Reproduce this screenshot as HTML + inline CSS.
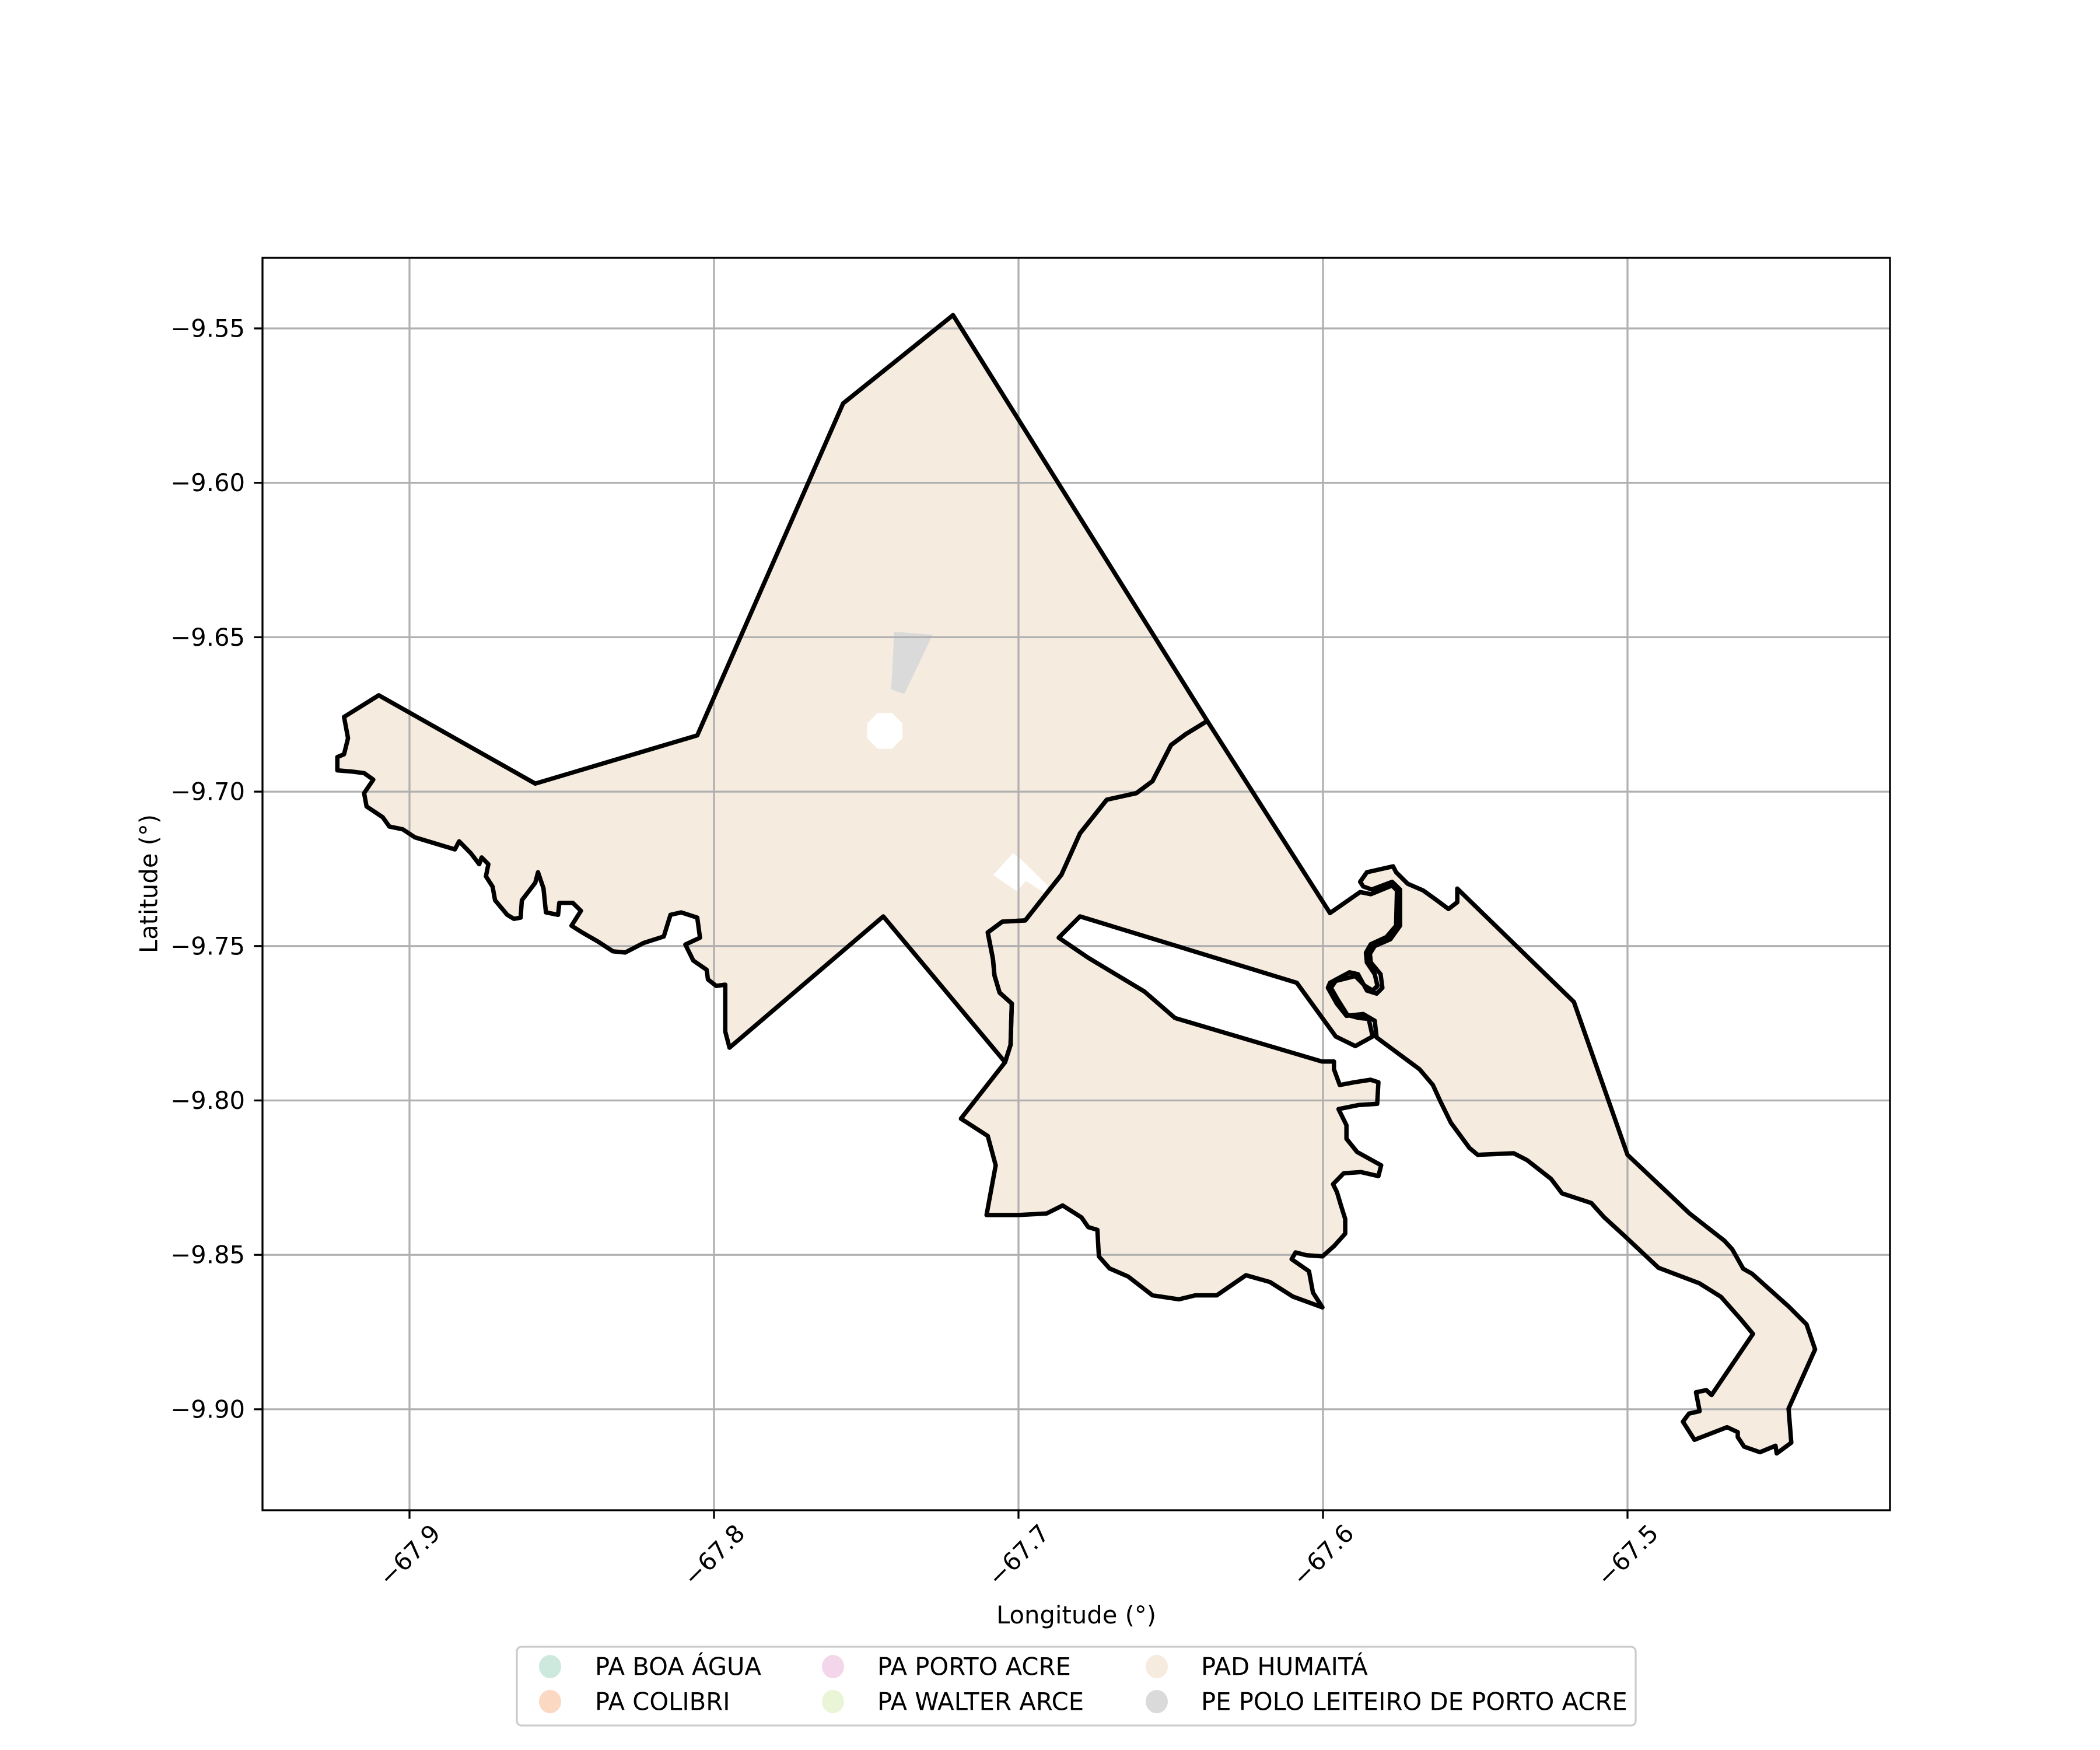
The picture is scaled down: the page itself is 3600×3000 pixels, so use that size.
<!DOCTYPE html>
<html><head><meta charset="utf-8"><style>
html,body{margin:0;padding:0;background:#fff;}
svg{display:block;font-family:"DejaVu Sans","Liberation Sans",sans-serif;}
</style></head><body>
<svg id="chart" width="3600" height="3000" viewBox="0 0 3600 3000" xmlns="http://www.w3.org/2000/svg">
<rect width="3600" height="3000" fill="#ffffff"/>
<g id="fills"></g>
<g id="grid"></g>
<g id="outlines"></g>
<g id="axes"></g>
<g id="legend"></g>
</svg>
<script>
// ---- data (lon, lat) ----
const xTicks = [-67.9, -67.8, -67.7, -67.6, -67.5];
const xTickLabels = ["\u221267.9", "\u221267.8", "\u221267.7", "\u221267.6", "\u221267.5"];
const yTicks = [-9.55, -9.60, -9.65, -9.70, -9.75, -9.80, -9.85, -9.90];
const yTickLabels = ["\u22129.55", "\u22129.60", "\u22129.65", "\u22129.70", "\u22129.75", "\u22129.80", "\u22129.85", "\u22129.90"];
const legendNames = ["PA BOA ÁGUA", "PA COLIBRI", "PA PORTO ACRE", "PA WALTER ARCE", "PAD HUMAITÁ", "PE POLO LEITEIRO DE PORTO ACRE"];
const legendColors = ["#cde9dd", "#fbd8c2", "#f3d6ea", "#eaf5d7", "#f5ebde", "#dadada"];

const polyWest = [
[-67.7215,-9.5457],[-67.7576,-9.5743],[-67.8055,-9.6818],[-67.8587,-9.6974],[-67.9101,-9.6688],[-67.9215,-9.6758],
[-67.9202,-9.6827],[-67.9215,-9.6879],[-67.9237,-9.6888],[-67.9237,-9.6931],[-67.9189,-9.6935],[-67.9149,-9.6940],
[-67.9119,-9.6961],[-67.9149,-9.7005],[-67.9141,-9.7048],[-67.9088,-9.7083],[-67.9066,-9.7113],[-67.9022,-9.7122],
[-67.8982,-9.7148],[-67.8851,-9.7187],[-67.8837,-9.7161],[-67.8798,-9.7200],[-67.8771,-9.7235],[-67.8763,-9.7213],
[-67.8741,-9.7235],[-67.8749,-9.7274],[-67.8727,-9.7308],[-67.8719,-9.7352],[-67.8679,-9.7399],[-67.8657,-9.7412],
[-67.8635,-9.7408],[-67.8631,-9.7352],[-67.8587,-9.7295],[-67.8578,-9.7261],[-67.8560,-9.7313],[-67.8552,-9.7391],
[-67.8512,-9.7399],[-67.8508,-9.7360],[-67.8464,-9.7360],[-67.8437,-9.7386],[-67.8468,-9.7434],[-67.8433,-9.7456],
[-67.8380,-9.7486],[-67.8332,-9.7517],[-67.8292,-9.7521],[-67.8231,-9.7490],[-67.8165,-9.7469],[-67.8143,-9.7399],
[-67.8108,-9.7391],[-67.8055,-9.7408],[-67.8046,-9.7473],[-67.8094,-9.7495],[-67.8068,-9.7547],[-67.8024,-9.7577],
[-67.8020,-9.7608],[-67.7993,-9.7629],[-67.7963,-9.7625],[-67.7963,-9.7777],[-67.7949,-9.7829],[-67.7444,-9.7404],
[-67.7044,-9.7876],[-67.7026,-9.7820],[-67.7022,-9.7686],[-67.7062,-9.7651],[-67.7079,-9.7595],[-67.7084,-9.7542],
[-67.7101,-9.7456],[-67.7053,-9.7421],[-67.6978,-9.7417],[-67.6859,-9.7269],[-67.6798,-9.7135],[-67.6710,-9.7026],
[-67.6613,-9.7005],[-67.6560,-9.6966],[-67.6499,-9.6849],[-67.6451,-9.6814],[-67.6380,-9.6771]
];

const polyMiddleSouth = [
[-67.6978,-9.7417],[-67.6859,-9.7269],[-67.6798,-9.7135],[-67.6710,-9.7026],[-67.6613,-9.7005],[-67.6560,-9.6966],
[-67.6499,-9.6849],[-67.6451,-9.6814],[-67.6380,-9.6771],[-67.5977,-9.7393],[-67.5878,-9.7325],[-67.5843,-9.7332],
[-67.5773,-9.7304],[-67.5757,-9.7320],[-67.5760,-9.7434],[-67.5792,-9.7471],[-67.5843,-9.7494],[-67.5859,-9.7522],
[-67.5856,-9.7553],[-67.5830,-9.7591],[-67.5821,-9.7629],[-67.5837,-9.7644],[-67.5862,-9.7629],[-67.5894,-9.7597],
[-67.5958,-9.7613],[-67.5974,-9.7635],[-67.5952,-9.7673],[-67.5920,-9.7723],[-67.5881,-9.7733],[-67.5850,-9.7736],
[-67.5837,-9.7793],[-67.5894,-9.7824],[-67.5958,-9.7793],[-67.6086,-9.7619],[-67.6798,-9.7404],[-67.6868,-9.7473],
[-67.6771,-9.7538],[-67.6587,-9.7647],[-67.6486,-9.7733],[-67.6003,-9.7874],[-67.5964,-9.7874],[-67.5964,-9.7899],
[-67.5945,-9.7950],[-67.5897,-9.7941],[-67.5844,-9.7933],[-67.5818,-9.7941],[-67.5822,-9.8011],[-67.5884,-9.8015],
[-67.5949,-9.8028],[-67.5923,-9.8080],[-67.5923,-9.8124],[-67.5888,-9.8167],[-67.5809,-9.8210],[-67.5818,-9.8245],
[-67.5875,-9.8232],[-67.5932,-9.8236],[-67.5967,-9.8271],[-67.5954,-9.8297],[-67.5941,-9.8340],[-67.5927,-9.8384],
[-67.5927,-9.8431],[-67.5963,-9.8471],[-67.6002,-9.8505],[-67.6055,-9.8501],[-67.6090,-9.8492],[-67.6103,-9.8514],
[-67.6046,-9.8553],[-67.6033,-9.8622],[-67.6002,-9.8670],[-67.6099,-9.8635],[-67.6174,-9.8588],[-67.6253,-9.8566],
[-67.6349,-9.8631],[-67.6420,-9.8631],[-67.6473,-9.8644],[-67.6560,-9.8631],[-67.6640,-9.8570],[-67.6701,-9.8544],
[-67.6736,-9.8505],[-67.6741,-9.8419],[-67.6771,-9.8410],[-67.6793,-9.8379],[-67.6855,-9.8340],[-67.6908,-9.8366],
[-67.7000,-9.8371],[-67.7105,-9.8371],[-67.7075,-9.8210],[-67.7101,-9.8115],[-67.7189,-9.8059],[-67.7044,-9.7876],
[-67.7026,-9.7820],[-67.7022,-9.7686],[-67.7062,-9.7651],[-67.7079,-9.7595],[-67.7084,-9.7542],[-67.7101,-9.7456],
[-67.7053,-9.7421]
];

const polyEast = [
[-67.5770,-9.7242],[-67.5760,-9.7261],[-67.5722,-9.7298],[-67.5671,-9.7320],[-67.5626,-9.7352],[-67.5588,-9.7380],
[-67.5559,-9.7358],[-67.5559,-9.7314],[-67.5176,-9.7681],[-67.5000,-9.8176],[-67.4796,-9.8366],[-67.4682,-9.8454],
[-67.4656,-9.8482],[-67.4620,-9.8545],[-67.4591,-9.8561],[-67.4470,-9.8668],[-67.4412,-9.8725],[-67.4384,-9.8806],
[-67.4471,-9.8998],[-67.4462,-9.9108],[-67.4510,-9.9143],[-67.4514,-9.9118],[-67.4565,-9.9139],[-67.4617,-9.9121],
[-67.4638,-9.9090],[-67.4638,-9.9074],[-67.4673,-9.9058],[-67.4780,-9.9099],[-67.4818,-9.9040],[-67.4798,-9.9014],
[-67.4763,-9.9006],[-67.4775,-9.8945],[-67.4741,-9.8938],[-67.4724,-9.8954],[-67.4588,-9.8756],[-67.4630,-9.8706],
[-67.4693,-9.8636],[-67.4764,-9.8592],[-67.4898,-9.8542],[-67.5007,-9.8441],[-67.5077,-9.8378],[-67.5119,-9.8332],
[-67.5215,-9.8301],[-67.5251,-9.8254],[-67.5330,-9.8193],[-67.5374,-9.8171],[-67.5492,-9.8176],[-67.5519,-9.8154],
[-67.5580,-9.8072],[-67.5615,-9.8002],[-67.5639,-9.7950],[-67.5683,-9.7899],[-67.5824,-9.7796],[-67.5830,-9.7742],
[-67.5868,-9.7720],[-67.5923,-9.7726],[-67.5955,-9.7686],[-67.5984,-9.7635],[-67.5977,-9.7619],[-67.5913,-9.7585],
[-67.5885,-9.7591],[-67.5856,-9.7644],[-67.5824,-9.7654],[-67.5805,-9.7635],[-67.5811,-9.7591],[-67.5843,-9.7553],
[-67.5846,-9.7525],[-67.5830,-9.7500],[-67.5779,-9.7478],[-67.5747,-9.7434],[-67.5747,-9.7317],[-67.5773,-9.7292],
[-67.5840,-9.7317],[-67.5868,-9.7307],[-67.5878,-9.7292],[-67.5856,-9.7261],[-67.5811,-9.7251]
];

const polyPolo = [[-67.7408,-9.6482],[-67.7282,-9.6492],[-67.7375,-9.6684],[-67.7418,-9.6669]];
const holeOctagon = [[-67.7381,-9.6779],[-67.7415,-9.6745],[-67.7463,-9.6745],[-67.7497,-9.6779],[-67.7497,-9.6827],[-67.7463,-9.6861],[-67.7415,-9.6861],[-67.7381,-9.6827]];
const holeDiamond = [[-67.7083,-9.7270],[-67.7018,-9.7199],[-67.6992,-9.7219],[-67.6903,-9.7305],[-67.6916,-9.7327],[-67.6976,-9.7289],[-67.7005,-9.7323]];

// ---- axes ----
const AX = {left:450, right:3240, top:442, bottom:2589};
function xS(lon){ return 702 + (lon + 67.9) * 5220; }
function yS(lat){ return 563 + (-9.55 - lat) * 5294; }
const NS = "http://www.w3.org/2000/svg";
function mk(tag, attrs, parent){
  const e = document.createElementNS(NS, tag);
  for (const k in attrs) e.setAttribute(k, attrs[k]);
  parent.appendChild(e);
  return e;
}
function pts(poly){ return poly.map(p => xS(p[0]).toFixed(1) + "," + yS(p[1]).toFixed(1)).join(" "); }

const fills = document.getElementById("fills");
const outlines = document.getElementById("outlines");
const padFill = "#f5ebde";
const polys = [["pad-humaita-west", polyWest], ["pad-humaita-middle-south", polyMiddleSouth], ["pad-humaita-east", polyEast]];
polys.forEach(([name, poly]) => {
  const f = mk("polygon", {points: pts(poly), fill: padFill, stroke: padFill, "stroke-width": 2}, fills);
  
  
});
const polo = mk("polygon", {points: pts(polyPolo), fill: "#dadada"}, fills);


[["hole-octagon", holeOctagon], ["hole-diamond", holeDiamond]].forEach(([name, poly]) => {
  const h = mk("polygon", {points: pts(poly), fill: "#ffffff"}, fills);
  
  
});
polys.forEach(([name, poly]) => {
  const o = mk("polygon", {points: pts(poly), fill: "none", stroke: "#000", "stroke-width": 7.5, "stroke-linejoin": "round"}, outlines);
  
  
});

// grid
const grid = document.getElementById("grid");
xTicks.forEach(v => {
  const l = mk("line", {x1: xS(v), x2: xS(v), y1: AX.top, y2: AX.bottom, stroke: "#b0b0b0", "stroke-width": 3.3}, grid);
  
  
});
yTicks.forEach(v => {
  const l = mk("line", {x1: AX.left, x2: AX.right, y1: yS(v), y2: yS(v), stroke: "#b0b0b0", "stroke-width": 3.3}, grid);
  
  
});

// axes
const axes = document.getElementById("axes");
const frame = mk("rect", {x: AX.left, y: AX.top, width: AX.right - AX.left, height: AX.bottom - AX.top, fill: "none", stroke: "#000", "stroke-width": 3.3}, axes);


xTicks.forEach((v, i) => {
  const x = xS(v);
  const t = mk("line", {x1: x, x2: x, y1: AX.bottom, y2: AX.bottom + 14.6, stroke: "#000", "stroke-width": 3.3}, axes);
  
  
  const cy = 2666;
  const tx = mk("text", {x: x, y: cy, "font-size": 41.7, "text-anchor": "middle", "dominant-baseline": "central", transform: "rotate(-45 " + x + " " + cy + ")"}, axes);
  tx.textContent = xTickLabels[i];
  
  
});
yTicks.forEach((v, i) => {
  const y = yS(v);
  const t = mk("line", {x1: AX.left - 14.6, x2: AX.left, y1: y, y2: y, stroke: "#000", "stroke-width": 3.3}, axes);
  
  
  const tx = mk("text", {x: 420, y: y, "font-size": 41.7, "text-anchor": "end", "dominant-baseline": "central"}, axes);
  tx.textContent = yTickLabels[i];
  
  
});
const xl = mk("text", {x: 1845, y: 2783, "font-size": 41.7, "text-anchor": "middle"}, axes);
xl.textContent = "Longitude (°)";


const yl = mk("text", {x: 255, y: 1515, "font-size": 41.7, "text-anchor": "middle", "dominant-baseline": "central", transform: "rotate(-90 255 1515)"}, axes);
yl.textContent = "Latitude (°)";



// legend
const legend = document.getElementById("legend");
const box = mk("rect", {x: 886, y: 2823, width: 1918, height: 135, rx: 8, fill: "#ffffff", "fill-opacity": 0.8, stroke: "#cccccc", "stroke-width": 3.3}, legend);


const colX = [943, 1428, 1983];
const textX = [1020, 1504, 2059];
const rowY = [2857, 2917];
legendNames.forEach((name, i) => {
  const c = Math.floor(i / 2), r = i % 2;
  const g = mk("g", {}, legend);
  
  
  const m = mk("ellipse", {cx: colX[c], cy: rowY[r], rx: 19, ry: 20, fill: legendColors[i]}, g);
  
  
  const t = mk("text", {x: textX[c], y: rowY[r], "font-size": 41.7, "dominant-baseline": "central"}, g);
  t.textContent = name;
  
  
});
</script>
</body></html>
